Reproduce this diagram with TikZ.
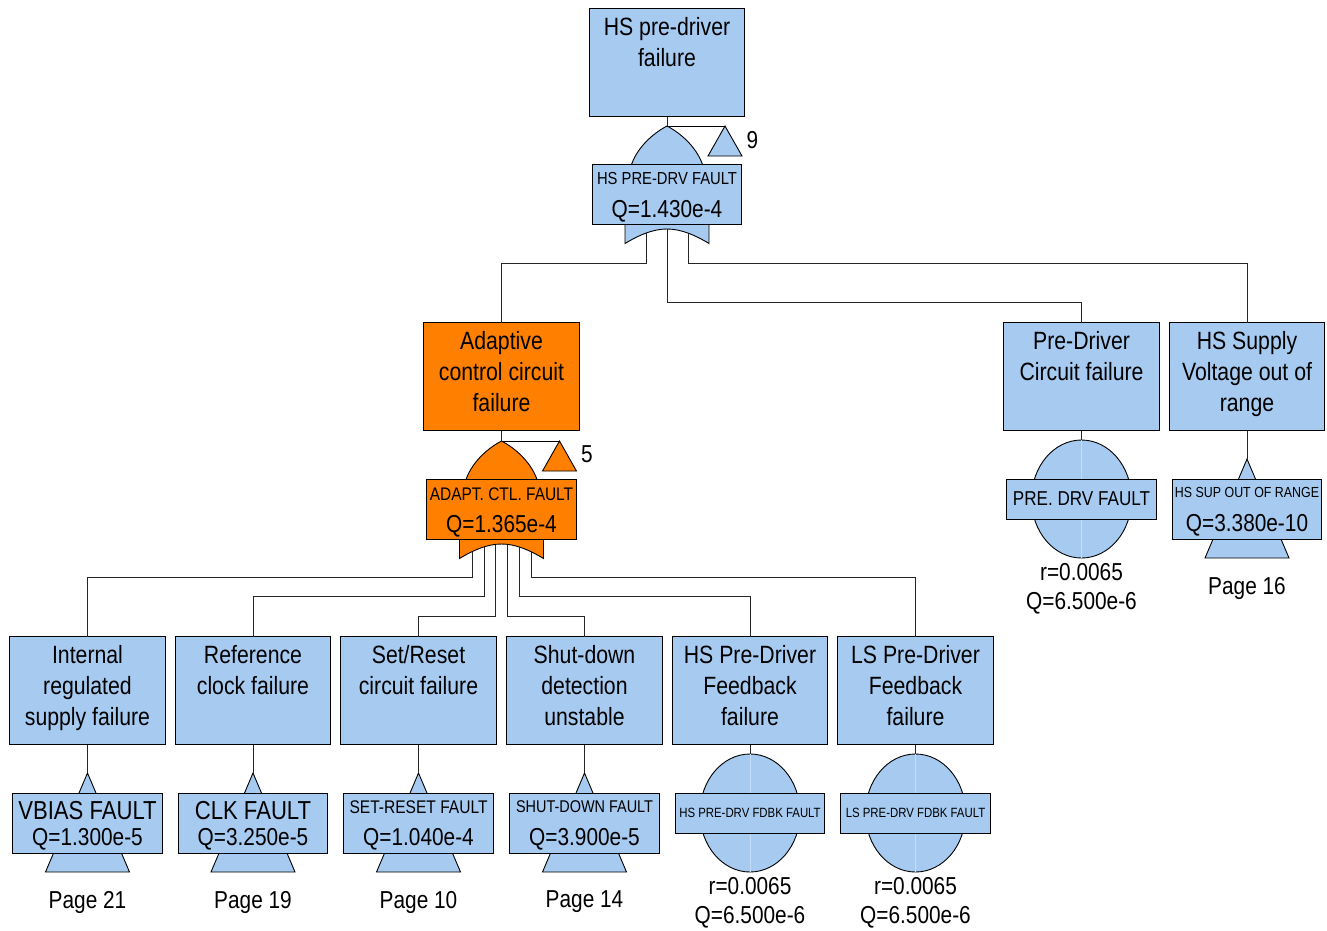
\documentclass[tikz,border=0pt]{standalone}
\usepackage{fontspec}
\setmainfont[FakeStretch=0.85]{Liberation Sans}
\usetikzlibrary{shapes.geometric}
\definecolor{evblue}{HTML}{A6CAF0}
\definecolor{evorange}{HTML}{FF8000}
\definecolor{seam}{HTML}{C4DCF5}
\newcommand{\fsz}[1]{\fontsize{#1pt}{31pt}\selectfont}
\tikzset{
  x=1pt,y=-1pt,
  ln/.style={draw=black,line width=0.9pt},
  wire/.style={draw=black!85,line width=0.9pt,line join=miter},
  lab/.style={inner sep=0pt,outer sep=0pt,align=center,text=black},
  evbox/.style={ln,fill=#1,minimum width=155.5pt,minimum height=108pt,inner sep=0pt,outer sep=0pt},
  gatebox/.style={ln,fill=#1,minimum width=149.5pt,inner sep=0pt,outer sep=0pt},
  evtext/.style={lab,anchor=north,font=\fsz{25}},
  tbig/.style={lab,font=\fsz{24.5}},
}
% name, cx, top, fill, text
\newcommand{\eventbox}[5]{%
  \node[evbox=#4] (#1) at (#2,#3+54) {};
  \node[evtext] (#1-t) at (#2,#3+8.5) {#5};
}
% OR gate: name, cx, apex y, fill, title, title size, Q text
\newcommand{\orgate}[7]{%
  \coordinate (#1-a) at (#2,#3);
  \path[ln,fill=#4] (#2-36,#3+40) .. controls (#2-31,#3+24) and (#2-17,#3+9) .. (#2,#3)
     .. controls (#2+17,#3+9) and (#2+31,#3+24) .. (#2+36,#3+40) -- cycle;
  \path[ln,fill=#4] (#2-42,#3+95) -- (#2-42,#3+117.5)
     .. controls (#2-28,#3+109) and (#2-14,#3+103) .. (#2,#3+103)
     .. controls (#2+14,#3+103) and (#2+28,#3+109) .. (#2+42,#3+117.5) -- (#2+42,#3+95) -- cycle;
  \node[gatebox=#4,minimum height=59.5pt] (#1-b) at (#2,#3+68.5) {};
  \node[lab,font=\fsz{#6}] (#1-n) at (#2,#3+53) {#5};
  \node[tbig] (#1-q) at (#2,#3+85.5) {#7};
  \coordinate (#1-tr) at (#2+58,#3);
  \path[ln,fill=#4] (#2+58,#3) -- (#2+41,#3+30) -- (#2+75,#3+30) -- cycle;
}
% basic event: name, cx, box top, title, title size
\newcommand{\basicev}[5]{%
  \node[ellipse,ln,fill=evblue,minimum width=100pt,minimum height=118pt,inner sep=0pt,outer sep=0pt] (#1-e) at (#2,#3+20) {};
  \draw[seam,line width=0.7pt] (#1-e.north) -- (#1-e.south);
  \node[gatebox=evblue,minimum height=40pt] (#1-b) at (#2,#3+20) {};
  \node[lab,font=\fsz{#5}] (#1-n) at (#2,#3+19.5) {#4};
  \node[tbig] (#1-r) at (#2,#3+93) {r=0.0065};
  \node[tbig] (#1-q) at (#2,#3+124) {Q=6.500e-6};
}
% transfer event: name, cx, box top, title, title size, Q, page, title dy
\newcommand{\undev}[8]{%
  \path[ln,fill=evblue] (#2,#3-20) -- (#2-42,#3+79) -- (#2+42,#3+79) -- cycle;
  \coordinate (#1-a) at (#2,#3-20);
  \node[gatebox=evblue,minimum height=60pt] (#1-b) at (#2,#3+30) {};
  \node[lab,font=\fsz{#5}] (#1-n) at (#2,#3+#8) {#4};
  \node[tbig] (#1-q) at (#2,#3+46.5) {#6};
  \node[tbig] (#1-p) at (#2,#3+109) {#7};
}
\begin{document}
\begin{tikzpicture}
\useasboundingbox (0,0) rectangle (1327,930);
\coordinate (tA) at (646,229);
\coordinate (tB) at (667,229);
\coordinate (tC) at (688,229);
\coordinate (oA) at (472,544);
\coordinate (oB) at (484,544);
\coordinate (oC) at (495.5,544);
\coordinate (oD) at (507,544);
\coordinate (oE) at (519,544);
\coordinate (oF) at (531,544);
\eventbox{top}{667}{8.5}{evblue}{HS pre-driver\\failure}
\eventbox{adapt}{501.5}{322.5}{evorange}{Adaptive\\control circuit\\failure}
\eventbox{pre}{1081.5}{322.5}{evblue}{Pre-Driver\\Circuit failure}
\eventbox{sup}{1247}{322.5}{evblue}{HS Supply\\Voltage out of\\range}
\eventbox{int}{87.5}{636.5}{evblue}{Internal\\regulated\\supply failure}
\eventbox{clk}{253}{636.5}{evblue}{Reference\\clock failure}
\eventbox{set}{418.5}{636.5}{evblue}{Set/Reset\\circuit failure}
\eventbox{shut}{584.5}{636.5}{evblue}{Shut-down\\detection\\unstable}
\eventbox{hsf}{750}{636.5}{evblue}{HS Pre-Driver\\Feedback\\failure}
\eventbox{lsf}{915.5}{636.5}{evblue}{LS Pre-Driver\\Feedback\\failure}

\draw[wire] (tA) -- ++(0,34.5) -| (adapt.north);
\draw[wire] (tB) -- ++(0,73.5) -| (pre.north);
\draw[wire] (tC) -- ++(0,34.5) -| (sup.north);
\draw[wire] (oA) -- ++(0,33.5) -| (int.north);
\draw[wire] (oB) -- ++(0,52.5) -| (clk.north);
\draw[wire] (oC) -- ++(0,72.5) -| (set.north);
\draw[wire] (oD) -- ++(0,72.5) -| (shut.north);
\draw[wire] (oE) -- ++(0,52.5) -| (hsf.north);
\draw[wire] (oF) -- ++(0,33.5) -| (lsf.north);

\orgate{g1}{667}{126}{evblue}{HS PRE-DRV FAULT}{17.4}{Q=1.430e-4}
\orgate{g2}{501.5}{441}{evorange}{ADAPT. CTL. FAULT}{18.2}{Q=1.365e-4}
\draw[wire] (top.south) -- (g1-a);
\draw[wire] (adapt.south) -- (g2-a);
\draw[ln] (g1-a) -- (g1-tr);
\draw[ln] (g2-a) -- (g2-tr);
\node[tbig] (lab9) at (752.5,140) {9};
\node[tbig] (lab5) at (587,454) {5};

\basicev{b1}{1081.5}{479}{PRE. DRV FAULT}{20.1}
\basicev{b2}{750}{793}{HS PRE-DRV FDBK FAULT}{13.4}
\basicev{b3}{915.5}{793}{LS PRE-DRV FDBK FAULT}{13.4}
\undev{u1}{1247}{479}{HS SUP OUT OF RANGE}{14.6}{Q=3.380e-10}{Page 16}{13}
\undev{u2}{87.5}{793}{VBIAS FAULT}{26}{Q=1.300e-5}{Page 21}{18}
\undev{u3}{253}{793}{CLK FAULT}{26}{Q=3.250e-5}{Page 19}{18}
\undev{u4}{418.5}{793}{SET-RESET FAULT}{18.3}{Q=1.040e-4}{Page 10}{14}
\undev{u5}{584.5}{793}{SHUT-DOWN FAULT}{17}{Q=3.900e-5}{Page 14}{14}

\draw[wire] (pre.south) -- (b1-e.north);
\draw[wire] (hsf.south) -- (b2-e.north);
\draw[wire] (lsf.south) -- (b3-e.north);
\draw[wire] (sup.south) -- (u1-a);
\draw[wire] (int.south) -- (u2-a);
\draw[wire] (clk.south) -- (u3-a);
\draw[wire] (set.south) -- (u4-a);
\draw[wire] (shut.south) -- (u5-a);
\end{tikzpicture}
\end{document}
